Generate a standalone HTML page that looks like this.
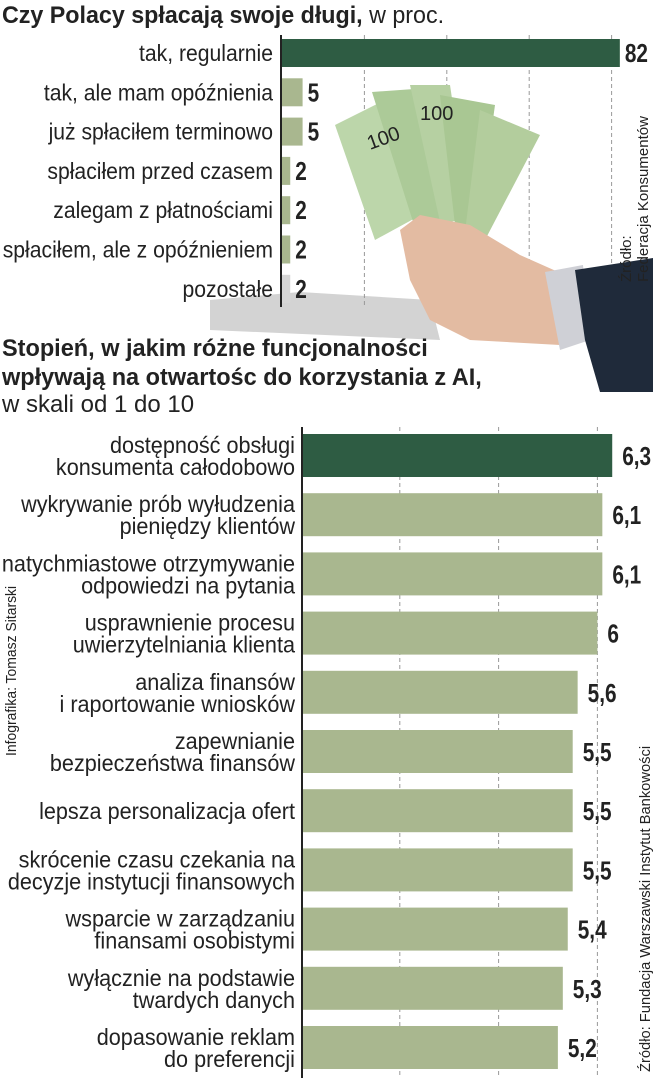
<!DOCTYPE html>
<html><head><meta charset="utf-8"><style>
html,body{margin:0;padding:0;background:#fff}
svg{display:block}
text{font-family:"Liberation Sans",sans-serif;fill:#222}
</style></head><body>
<svg id="s" width="653" height="1080" viewBox="0 0 653 1080">
<g>
<polygon points="210,300 300,292 430,300 440,340 210,330" fill="#d3d3d3"/>
</g>
<g id="g1"></g>
<g>
<polygon points="335,125 395,95 430,210 375,240" fill="#bcd6aa"/>
<polygon points="372,92 428,88 460,220 415,228" fill="#acca98"/>
<polygon points="410,85 450,85 470,220 440,222" fill="#b6d0a2"/>
<polygon points="440,95 495,105 478,228 455,225" fill="#a9c793"/>
<polygon points="480,110 540,135 485,240 465,232" fill="#b3cd9d"/>
<polygon points="400,230 420,215 470,225 520,255 565,275 580,330 560,345 470,340 430,320 410,280" fill="#e3bba2"/>
<polygon points="545,272 583,265 590,340 560,350" fill="#cfd0d6"/>
<polygon points="575,270 653,258 653,392 600,392 585,340" fill="#1f2a3a"/>
<text x="370" y="150" font-size="20" fill="#5a7a50" transform="rotate(-20 370 150)">100</text>
<text x="420" y="120" font-size="20" fill="#5a7a50">100</text>
</g>
<text x="2" y="23" font-size="24" transform="scale(0.97,1)"><tspan font-weight="bold">Czy Polacy spłacają swoje długi,</tspan> w proc.</text>
<text transform="translate(631,282) rotate(-90)" font-size="15" fill="#444">Źródło:</text>
<text transform="translate(648,282) rotate(-90)" font-size="15" fill="#444">Federacja Konsumentów</text>
<text font-size="24" font-weight="bold" transform="scale(0.98,1)"><tspan x="2" y="356">Stopień, w jakim różne funcjonalności</tspan><tspan x="2" y="385">wpływają na otwartośc do korzystania z AI,</tspan></text>
<text x="2" y="412" font-size="24" transform="scale(1.0,1)">w skali od 1 do 10</text>
<g id="g2"></g>
<text transform="translate(16,756) rotate(-90) scale(0.93,1)" font-size="15" fill="#555">Infografika: Tomasz Sitarski</text>
<text transform="translate(650,1072) rotate(-90) scale(0.98,1)" font-size="15" fill="#555">Źródło: Fundacja Warszawski Instytut Bankowości</text>
</svg>
<script>
const cats1=["tak, regularnie","tak, ale mam opóźnienia","już spłaciłem terminowo","spłaciłem przed czasem","zalegam z płatnościami","spłaciłem, ale z opóźnieniem","pozostałe"];
const vals1=[82,5,5,2,2,2,2];
const labels1=["82","5","5","2","2","2","2"];
const grid1=[20,40,60,80];
const cats2=[["dostępność obsługi","konsumenta całodobowo"],["wykrywanie prób wyłudzenia","pieniędzy klientów"],["natychmiastowe otrzymywanie","odpowiedzi na pytania"],["usprawnienie procesu","uwierzytelniania klienta"],["analiza finansów","i raportowanie wniosków"],["zapewnianie","bezpieczeństwa finansów"],["lepsza personalizacja ofert"],["skrócenie czasu czekania na","decyzje instytucji finansowych"],["wsparcie w zarządzaniu","finansami osobistymi"],["wyłącznie na podstawie","twardych danych"],["dopasowanie reklam","do preferencji"]];
const vals2=[6.3,6.1,6.1,6,5.6,5.5,5.5,5.5,5.4,5.3,5.2];
const labels2=["6,3","6,1","6,1","6","5,6","5,5","5,5","5,5","5,4","5,3","5,2"];
const grid2=[2,4,6];
const NS="http://www.w3.org/2000/svg";
function mk(p,t,a){const e=document.createElementNS(NS,t);for(const k in a)e.setAttribute(k,a[k]);p.appendChild(e);return e;}
const S1=0.92,S2=0.94,SV=0.8;
// chart 1
const g1=document.getElementById('g1');
const x1=v=>282+v*4.12, y1=i=>39+i*39.3;
grid1.forEach(v=>{const l=mk(g1,'line',{x1:x1(v),x2:x1(v),y1:35,y2:307,stroke:'#999','stroke-dasharray':'4,3','stroke-width':1});

});
vals1.forEach((v,i)=>{
 const fill=i==0?'#2e5c43':(i==6?'#d6d6d6':'#a9b78f');
 const r=mk(g1,'rect',{x:x1(0),y:y1(i),width:x1(v)-x1(0),height:28,fill});
 
 
 const t=mk(g1,'text',{x:(x1(v)+5)/SV,y:y1(i)+23,'font-size':26,'font-weight':'bold',transform:'scale('+SV+',1)'});t.textContent=labels1[i];
 
 
 const c=mk(g1,'text',{x:273/S1,y:y1(i)+22,'font-size':23,'text-anchor':'end',transform:'scale('+S1+',1)'});c.textContent=cats1[i];
 
 
});
const a1=mk(g1,'line',{x1:281,x2:281,y1:35,y2:307,stroke:'#222','stroke-width':2});


// chart 2
const g2=document.getElementById('g2');
const x2=v=>301+v*49.4, y2=i=>434+i*59.2;
grid2.forEach(v=>{const l=mk(g2,'line',{x1:x2(v),x2:x2(v),y1:427,y2:1078,stroke:'#999','stroke-dasharray':'4,3','stroke-width':1});

});
vals2.forEach((v,i)=>{
 const r=mk(g2,'rect',{x:x2(0),y:y2(i),width:x2(v)-x2(0),height:43,fill:i==0?'#2e5c43':'#a9b78f'});
 
 
 const t=mk(g2,'text',{x:(x2(v)+10)/SV,y:y2(i)+31,'font-size':26,'font-weight':'bold',transform:'scale('+SV+',1)'});t.textContent=labels2[i];
 
 
 const lines=cats2[i];
 lines.forEach((s,j)=>{
  const yy=lines.length==1?y2(i)+30:y2(i)+19+j*22;
  const c=mk(g2,'text',{x:295/S2,y:yy,'font-size':23,'text-anchor':'end',transform:'scale('+S2+',1)'});c.textContent=s;
  
  
 });
});
const a2=mk(g2,'line',{x1:302,x2:302,y1:427,y2:1078,stroke:'#222','stroke-width':2});


</script>
</body></html>
